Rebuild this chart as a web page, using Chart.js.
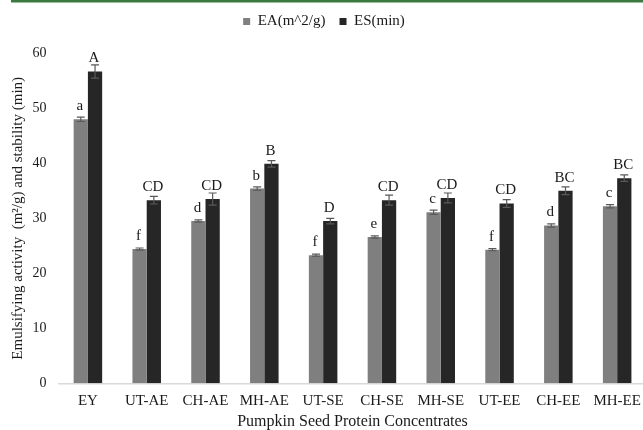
<!DOCTYPE html>
<html>
<head>
<meta charset="utf-8">
<title>Pumpkin Seed Protein Concentrates - EA / ES</title>
<script src="https://cdn.jsdelivr.net/npm/chart.js@4.4.1/dist/chart.umd.min.js"></script>
<style>
  html, body { margin: 0; padding: 0; background: #fff; overflow: hidden; }
  #chart-emulsify { display: block; }
</style>
</head>
<body>
<canvas id="chart-emulsify" width="650" height="430"></canvas>
<script>
// Data
const categories = ['EY', 'UT-AE', 'CH-AE', 'MH-AE', 'UT-SE', 'CH-SE', 'MH-SE', 'UT-EE', 'CH-EE', 'MH-EE'];
const eaValues = [48.0, 24.4, 29.5, 35.4, 23.3, 26.6, 31.1, 24.3, 28.7, 32.2];
const esValues = [56.7, 33.3, 33.5, 39.9, 29.5, 33.3, 33.7, 32.7, 35.0, 37.3];
const eaErrors = [0.4, 0.2, 0.2, 0.3, 0.2, 0.2, 0.4, 0.2, 0.3, 0.3];
const esErrors = [1.2, 0.7, 1.1, 0.6, 0.5, 0.9, 0.9, 0.7, 0.7, 0.6];
const eaLetters = ['a', 'f', 'd', 'b', 'f', 'e', 'c', 'f', 'd', 'c'];
const esLetters = ['A', 'CD', 'CD', 'B', 'D', 'CD', 'CD', 'CD', 'BC', 'BC'];
const yTicks = [0, 10, 20, 30, 40, 50, 60];

const FONT = "'Liberation Serif', 'Times New Roman', serif";
const TEXT = '#1a1a1a';

// green rule across the top of the page
const topRule = {
  id: 'topRule',
  beforeDraw(chart) {
    const ctx = chart.ctx;
    ctx.save();
    ctx.fillStyle = '#3b7a3f';
    ctx.fillRect(11, 0, chart.width - 11, 2.5);
    ctx.restore();
  }
};

// push the plot down below the legend
const legendSpacer = {
  id: 'legendSpacer',
  beforeInit(chart) {
    const fit = chart.legend.fit;
    chart.legend.fit = function() {
      fit.bind(chart.legend)();
      this.height += 14.3;
    };
  }
};

// error bars + significance letters
const errorBars = {
  id: 'errorBars',
  afterDatasetsDraw(chart) {
    const ctx = chart.ctx;
    const y = chart.scales.y;
    const sets = [
      { errs: eaErrors, vals: eaValues, letters: eaLetters },
      { errs: esErrors, vals: esValues, letters: esLetters }
    ];
    ctx.save();
    sets.forEach((s, di) => {
      const meta = chart.getDatasetMeta(di);
      meta.data.forEach((bar, i) => {
        const x = bar.x;
        const hi = y.getPixelForValue(s.vals[i] + s.errs[i]);
        const lo = y.getPixelForValue(s.vals[i] - s.errs[i]);
        ctx.strokeStyle = '#595959';
        ctx.lineWidth = 1.2;
        ctx.beginPath();
        ctx.moveTo(x, hi); ctx.lineTo(x, lo);
        ctx.moveTo(x - 4, hi); ctx.lineTo(x + 4, hi);
        ctx.moveTo(x - 4, lo); ctx.lineTo(x + 4, lo);
        ctx.stroke();

        ctx.fillStyle = TEXT;
        ctx.font = '15px ' + FONT;
        ctx.textAlign = 'center';
        ctx.textBaseline = 'alphabetic';
        ctx.fillText(s.letters[i], x - 1, bar.y - 9);
      });
    });
    ctx.restore();
  }
};

const ctx = document.getElementById('chart-emulsify').getContext('2d');
new Chart(ctx, {
  type: 'bar',
  data: {
    labels: categories,
    datasets: [
      {
        label: 'EA(m^2/g)',
        data: eaValues,
        backgroundColor: '#7f7f7f',
        borderWidth: 0,
        categoryPercentage: 0.485,
        barPercentage: 1
      },
      {
        label: 'ES(min)',
        data: esValues,
        backgroundColor: '#262626',
        borderWidth: 0,
        categoryPercentage: 0.485,
        barPercentage: 1
      }
    ]
  },
  options: {
    responsive: false,
    animation: false,
    layout: { padding: { top: 0, right: 2, bottom: 0, left: 0 } },
    plugins: {
      legend: {
        display: true,
        position: 'top',
        labels: {
          boxWidth: 7,
          boxHeight: 7,
          padding: 14,
          color: TEXT,
          font: { family: FONT, size: 15 }
        }
      },
      tooltip: { enabled: false }
    },
    scales: {
      x: {
        grid: { display: false, drawTicks: false },
        border: { display: true, color: '#d9d9d9', width: 1.5 },
        ticks: {
          color: TEXT,
          padding: 9,
          font: { family: FONT, size: 15 },
          maxRotation: 0
        },
        title: {
          display: true,
          text: 'Pumpkin Seed Protein Concentrates',
          color: TEXT,
          padding: { top: 0, bottom: -1 },
          font: { family: FONT, size: 16 }
        },
        afterFit(scale) { scale.height = 46.7; }
      },
      y: {
        min: 0,
        max: 60,
        grid: { display: false, drawTicks: false },
        border: { display: false },
        afterBuildTicks(scale) { scale.ticks = yTicks.map(v => ({ value: v })); },
        ticks: {
          color: TEXT,
          padding: 12,
          font: { family: FONT, size: 14 }
        },
        title: {
          display: true,
          text: 'Emulsifying activity  (m²/g) and stability (min)',
          color: TEXT,
          padding: { top: 9, bottom: 0 },
          font: { family: FONT, size: 15 }
        },
        afterFit(scale) { scale.width = 58.5; }
      }
    }
  },
  plugins: [topRule, legendSpacer, errorBars]
});
</script>
</body>
</html>
